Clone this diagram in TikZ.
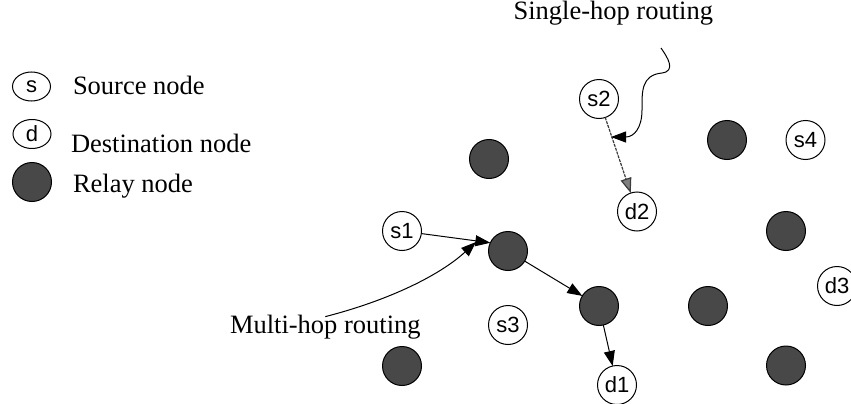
\documentclass[tikz,border=0pt]{standalone}
\usepackage{fontspec}
\setmainfont{Liberation Serif}
\newfontfamily\labelfont{Liberation Sans}
\usetikzlibrary{arrows.meta,shapes.geometric}
\definecolor{relaygray}{RGB}{72,72,72}
\definecolor{hopgray}{RGB}{60,60,60}
\begin{document}
\begin{tikzpicture}[x=1pt,y=-1pt,
  every node/.style={inner sep=0pt,outer sep=0pt},
  labelfnt/.style={font=\labelfont\fontsize{22}{26}\selectfont},
  plain/.style={circle,draw,line width=1pt,minimum size=39pt,fill=white,labelfnt},
  relay/.style={circle,draw,line width=1pt,minimum size=39pt,fill=relaygray},
  keyoval/.style={ellipse,draw,line width=1pt,minimum width=38pt,minimum height=29pt,labelfnt},
  caption/.style={font=\fontsize{26.5}{30}\selectfont},
  tip/.style={-{Triangle[length=15pt,width=11pt]}},
  link/.style={line width=1pt,tip},
  direct/.style={line width=1.2pt,draw=hopgray,dash pattern=on 3pt off 1pt,
    -{Triangle[length=15pt,width=11pt,fill=gray]}},
  pointer/.style={line width=1pt,tip}
]
\useasboundingbox (0,0) rectangle (851,404);

% legend
\node[keyoval] (ks) at (31.5,86.5) {s};
\node[keyoval] (kd) at (32,134) {d};
\node[relay]   (kr) at (32,182) {};
\node[caption,anchor=base west] (ts) at (73,94.5) {Source node};
\node[caption,anchor=base west] (td) at (71,152) {Destination node};
\node[caption,anchor=base west] (tr) at (73,192) {Relay node};

% sources and destinations
\node[plain] (s1) at (402,231) {s1};
\node[plain] (s2) at (599,99) {s2};
\node[plain] (s3) at (508,325) {s3};
\node[plain] (s4) at (805.5,140) {s4};
\node[plain] (d1) at (617,385) {d1};
\node[plain] (d2) at (637,211.5) {d2};
\node[plain] (d3) at (837,286) {d3};

% relays
\node[relay] (r1) at (489,159) {};
\node[relay] (r2) at (508,251) {};
\node[relay] (r3) at (599,306) {};
\node[relay] (r4) at (727,140) {};
\node[relay] (r5) at (786,231) {};
\node[relay] (r6) at (708,306) {};
\node[relay] (r7) at (786,365.5) {};
\node[relay] (r8) at (402,366) {};

% captions of the two routing modes
\node[caption,anchor=base west] (multi) at (230,333) {Multi-hop routing};
\node[caption,anchor=base east] (single) at (713,20) {Single-hop routing};

% multi-hop path
\draw[link] (s1) -- (r2.155);
\draw[link] (r2) -- (r3);
\draw[link] (r3) -- (d1);

% single-hop path
\draw[direct] (s2) -- (d2);

% pointers from the captions
\coordinate (mtip) at (476,242);
\coordinate (stail) at (661,48);
\coordinate (stip) at (611,137);
\draw[pointer] ([yshift=-2pt]multi.north) .. controls (390,300) and (440,275) .. (mtip);
\draw[pointer] (stail) .. controls (668,58) and (676,71) .. (662,73)
  .. controls (641,75) and (642,92) .. (642,110)
  .. controls (642,128) and (634,137) .. (stip);
\end{tikzpicture}
\end{document}
